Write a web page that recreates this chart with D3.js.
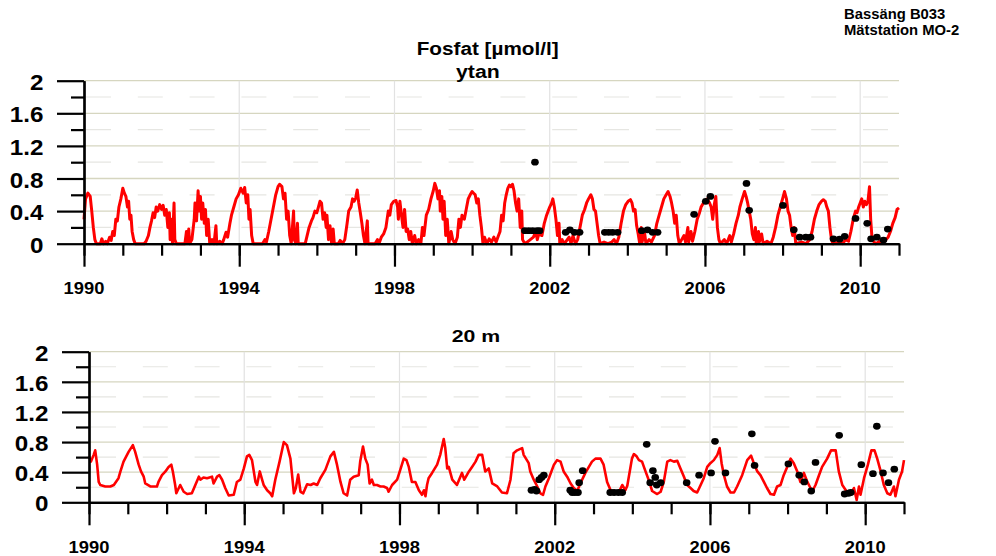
<!DOCTYPE html>
<html><head><meta charset="utf-8">
<script src="https://cdn.jsdelivr.net/npm/d3@7"></script>
<style>
body{margin:0;background:#fff}
svg{display:block}
text{font-family:"Liberation Sans",Arial,sans-serif;font-weight:bold;fill:#000}
</style></head><body>
<svg id="c" width="996" height="556"></svg>
<script>
// ---------------- DATA ----------------
const xLabelYears = [1990, 1994, 1998, 2002, 2006, 2010];
const xMinorYears = d3.range(1990, 2012, 1);
const yTickValues = [0, 0.4, 0.8, 1.2, 1.6, 2];
const yTickLabels = ["0", "0.4", "0.8", "1.2", "1.6", "2"];
const yMinorValues = [0.2, 0.6, 1.0, 1.4, 1.8];
const mainTitle = "Fosfat [µmol/l]";
const panelTitles = ["ytan", "20 m"];
const stationLines = ["Bassäng B033", "Mätstation MO-2"];

// surface model (decimal year, µmol/l)
const surfaceModel = [
[1990.00,0.30],[1990.04,0.55],[1990.10,0.62],[1990.16,0.58],[1990.20,0.40],[1990.24,0.20],[1990.28,0.05],[1990.32,0.0],[1990.42,0.0],[1990.46,0.06],[1990.50,0.0],[1990.56,0.03],[1990.60,0.0],[1990.66,0.08],[1990.70,0.04],[1990.74,0.15],[1990.78,0.10],[1990.82,0.30],[1990.86,0.28],[1990.90,0.45],[1990.95,0.55],[1991.00,0.68],
[1991.04,0.62],[1991.08,0.58],[1991.12,0.45],[1991.15,0.52],[1991.18,0.30],[1991.21,0.35],[1991.24,0.15],[1991.28,0.05],[1991.32,0.0],[1991.55,0.0],[1991.60,0.03],[1991.66,0.10],[1991.70,0.20],[1991.74,0.28],[1991.78,0.38],[1991.82,0.32],[1991.86,0.45],[1991.90,0.40],[1991.95,0.48],[1992.00,0.42],
[1992.04,0.47],[1992.08,0.35],[1992.12,0.42],[1992.16,0.20],[1992.20,0.38],[1992.22,0.05],[1992.26,0.30],[1992.28,0.0],[1992.32,0.50],[1992.34,0.05],[1992.38,0.0],[1992.60,0.0],[1992.64,0.15],[1992.66,0.02],[1992.70,0.18],[1992.72,0.0],[1992.78,0.05],[1992.84,0.30],[1992.86,0.50],[1992.90,0.28],[1992.94,0.65],[1992.97,0.40],
[1993.00,0.58],[1993.03,0.30],[1993.06,0.50],[1993.10,0.25],[1993.13,0.42],[1993.16,0.10],[1993.20,0.30],[1993.24,0.0],[1993.30,0.05],[1993.35,0.0],[1993.40,0.22],[1993.42,0.0],[1993.50,0.03],[1993.56,0.0],[1993.60,0.05],[1993.66,0.14],[1993.70,0.08],[1993.76,0.25],[1993.80,0.35],[1993.86,0.45],[1993.92,0.55],[1993.98,0.60],
[1994.04,0.68],[1994.10,0.62],[1994.14,0.69],[1994.18,0.50],[1994.22,0.60],[1994.25,0.30],[1994.28,0.42],[1994.32,0.10],[1994.36,0.0],[1994.60,0.0],[1994.66,0.05],[1994.70,0.02],[1994.76,0.15],[1994.82,0.30],[1994.88,0.45],[1994.94,0.60],[1995.00,0.70],
[1995.04,0.73],[1995.10,0.70],[1995.14,0.55],[1995.18,0.62],[1995.22,0.30],[1995.26,0.40],[1995.30,0.10],[1995.34,0.0],[1995.40,0.40],[1995.42,0.05],[1995.46,0.0],[1995.50,0.25],[1995.52,0.0],[1995.70,0.0],[1995.74,0.08],[1995.80,0.20],[1995.86,0.28],[1995.90,0.32],[1995.95,0.40],[1996.00,0.38],
[1996.04,0.45],[1996.08,0.52],[1996.12,0.50],[1996.16,0.30],[1996.20,0.38],[1996.24,0.20],[1996.26,0.35],[1996.30,0.05],[1996.34,0.22],[1996.38,0.0],[1996.42,0.18],[1996.45,0.0],[1996.55,0.0],[1996.60,0.04],[1996.66,0.0],[1996.72,0.05],[1996.78,0.25],[1996.82,0.40],[1996.88,0.45],[1996.92,0.55],[1996.96,0.52],[1997.00,0.56],
[1997.04,0.66],[1997.08,0.50],[1997.12,0.38],[1997.16,0.25],[1997.20,0.10],[1997.24,0.0],[1997.30,0.28],[1997.32,0.0],[1997.50,0.0],[1997.56,0.05],[1997.60,0.0],[1997.66,0.08],[1997.72,0.12],[1997.78,0.20],[1997.84,0.40],[1997.88,0.35],[1997.92,0.48],[1997.98,0.52],
[1998.04,0.53],[1998.08,0.45],[1998.10,0.30],[1998.14,0.52],[1998.18,0.35],[1998.22,0.20],[1998.26,0.42],[1998.30,0.15],[1998.34,0.18],[1998.38,0.05],[1998.42,0.15],[1998.46,0.0],[1998.52,0.10],[1998.56,0.0],[1998.62,0.05],[1998.68,0.0],[1998.72,0.20],[1998.76,0.10],[1998.82,0.35],[1998.88,0.42],[1998.94,0.55],[1999.00,0.65],
[1999.04,0.74],[1999.08,0.68],[1999.12,0.55],[1999.16,0.65],[1999.18,0.40],[1999.22,0.58],[1999.25,0.30],[1999.28,0.52],[1999.32,0.10],[1999.36,0.30],[1999.40,0.0],[1999.46,0.15],[1999.50,0.05],[1999.56,0.0],[1999.62,0.08],[1999.66,0.30],[1999.70,0.20],[1999.74,0.35],[1999.80,0.30],[1999.86,0.45],[1999.90,0.55],[1999.95,0.60],[2000.00,0.64],
[2000.04,0.62],[2000.08,0.60],[2000.12,0.50],[2000.16,0.55],[2000.20,0.35],[2000.24,0.20],[2000.28,0.0],[2000.32,0.08],[2000.38,0.0],[2000.44,0.06],[2000.50,0.02],[2000.56,0.08],[2000.62,0.02],[2000.68,0.10],[2000.72,0.15],[2000.76,0.35],[2000.80,0.28],[2000.84,0.50],[2000.88,0.60],[2000.92,0.68],[2000.96,0.72],[2001.00,0.70],
[2001.04,0.73],[2001.08,0.65],[2001.12,0.50],[2001.16,0.40],[2001.20,0.55],[2001.24,0.20],[2001.28,0.40],[2001.30,0.05],[2001.36,0.0],[2001.42,0.02],[2001.50,0.05],[2001.58,0.08],[2001.64,0.15],[2001.68,0.05],[2001.72,0.12],[2001.80,0.10],[2001.86,0.25],[2001.92,0.35],[2001.96,0.40],[2002.00,0.45],[2002.05,0.50],[2002.08,0.55],
[2002.12,0.45],[2002.16,0.30],[2002.20,0.10],[2002.24,0.25],[2002.26,0.0],[2002.32,0.05],[2002.38,0.0],[2002.50,0.08],[2002.55,0.0],[2002.60,0.10],[2002.66,0.0],[2002.72,0.05],[2002.78,0.20],[2002.84,0.35],[2002.90,0.42],[2002.95,0.50],[2003.00,0.55],[2003.06,0.60],
[2003.10,0.55],[2003.14,0.42],[2003.18,0.40],[2003.22,0.25],[2003.26,0.10],[2003.30,0.0],[2003.40,0.02],[2003.50,0.0],[2003.60,0.02],[2003.66,0.05],[2003.72,0.0],[2003.78,0.08],[2003.84,0.25],[2003.90,0.40],[2003.96,0.48],[2004.02,0.52],[2004.08,0.54],
[2004.12,0.50],[2004.16,0.40],[2004.20,0.42],[2004.24,0.22],[2004.28,0.12],[2004.32,0.0],[2004.36,0.20],[2004.38,0.02],[2004.44,0.15],[2004.48,0.0],[2004.56,0.05],[2004.62,0.02],[2004.70,0.10],[2004.76,0.25],[2004.82,0.35],[2004.88,0.45],[2004.94,0.55],[2005.00,0.60],[2005.05,0.64],
[2005.10,0.58],[2005.14,0.50],[2005.18,0.40],[2005.22,0.25],[2005.26,0.35],[2005.30,0.10],[2005.34,0.0],[2005.40,0.05],[2005.46,0.10],[2005.50,0.02],[2005.56,0.20],[2005.58,0.02],[2005.64,0.15],[2005.68,0.03],[2005.74,0.15],[2005.80,0.30],[2005.86,0.38],[2005.90,0.45],[2005.96,0.50],[2006.00,0.52],[2006.06,0.55],[2006.12,0.50],
[2006.16,0.45],[2006.20,0.30],[2006.24,0.48],[2006.28,0.58],[2006.32,0.20],[2006.36,0.05],[2006.40,0.0],[2006.50,0.05],[2006.56,0.0],[2006.64,0.10],[2006.68,0.02],[2006.74,0.12],[2006.80,0.25],[2006.86,0.35],[2006.90,0.45],[2006.96,0.55],[2007.02,0.64],
[2007.06,0.58],[2007.10,0.50],[2007.14,0.40],[2007.18,0.30],[2007.22,0.12],[2007.26,0.05],[2007.30,0.20],[2007.32,0.0],[2007.38,0.15],[2007.40,0.02],[2007.46,0.12],[2007.50,0.0],[2007.60,0.03],[2007.70,0.0],[2007.76,0.08],[2007.82,0.20],[2007.88,0.35],[2007.94,0.45],[2008.00,0.55],[2008.05,0.64],
[2008.10,0.55],[2008.14,0.40],[2008.18,0.35],[2008.22,0.20],[2008.26,0.10],[2008.30,0.20],[2008.34,0.0],[2008.50,0.02],[2008.60,0.0],[2008.70,0.05],[2008.76,0.15],[2008.82,0.30],[2008.88,0.40],[2008.94,0.48],[2009.00,0.52],[2009.05,0.54],
[2009.10,0.52],[2009.14,0.45],[2009.18,0.40],[2009.22,0.20],[2009.26,0.05],[2009.30,0.0],[2009.45,0.02],[2009.55,0.0],[2009.62,0.05],[2009.70,0.03],[2009.76,0.15],[2009.82,0.30],[2009.88,0.40],[2009.92,0.38],[2009.96,0.45],[2010.00,0.50],[2010.04,0.55],
[2010.08,0.45],[2010.12,0.52],[2010.16,0.48],[2010.20,0.52],[2010.24,0.70],[2010.27,0.30],[2010.30,0.10],[2010.34,0.03],[2010.40,0.0],[2010.50,0.03],[2010.60,0.02],[2010.66,0.05],[2010.72,0.08],[2010.78,0.15],[2010.84,0.25],[2010.90,0.32],[2010.95,0.42],[2011.00,0.44]
];

// surface observations
const surfaceObs = [
[2001.36,0.16],[2001.46,0.16],[2001.56,0.16],[2001.62,1.00],[2001.67,0.16],[2001.74,0.16],
[2002.41,0.14],[2002.52,0.17],[2002.64,0.14],[2002.77,0.14],
[2003.42,0.14],[2003.52,0.14],[2003.62,0.14],[2003.75,0.14],
[2004.37,0.16],[2004.52,0.17],[2004.65,0.14],[2004.78,0.14],
[2005.72,0.36],[2006.02,0.52],[2006.14,0.58],[2007.07,0.74],[2007.14,0.41],
[2008.01,0.47],[2008.29,0.17],[2008.44,0.08],[2008.60,0.08],[2008.72,0.08],
[2009.31,0.06],[2009.47,0.055],[2009.60,0.09],[2009.88,0.31],
[2010.18,0.25],[2010.28,0.06],[2010.43,0.08],[2010.60,0.045],[2010.71,0.18]
];

// 20 m model
const deepModel = [
[1990.00,0.61],[1990.05,0.54],[1990.12,0.63],[1990.16,0.69],[1990.21,0.50],[1990.25,0.27],[1990.29,0.23],[1990.42,0.21],[1990.55,0.21],[1990.64,0.23],[1990.76,0.32],[1990.81,0.41],[1990.89,0.54],[1991.02,0.67],[1991.13,0.76],[1991.19,0.67],[1991.28,0.50],[1991.34,0.41],[1991.41,0.34],[1991.45,0.25],[1991.58,0.21],[1991.75,0.21],[1991.79,0.27],[1991.88,0.36],[1991.97,0.41],
[1992.05,0.47],[1992.12,0.50],[1992.16,0.41],[1992.22,0.23],[1992.25,0.12],[1992.35,0.23],[1992.44,0.14],[1992.53,0.11],[1992.65,0.12],[1992.74,0.23],[1992.83,0.34],[1992.87,0.30],[1992.95,0.33],[1993.04,0.32],[1993.17,0.34],[1993.21,0.25],[1993.30,0.34],[1993.36,0.36],[1993.43,0.30],[1993.51,0.19],[1993.60,0.09],[1993.73,0.10],[1993.81,0.27],[1993.90,0.30],[1993.99,0.45],
[1994.07,0.61],[1994.13,0.63],[1994.20,0.56],[1994.29,0.27],[1994.33,0.23],[1994.40,0.41],[1994.46,0.30],[1994.50,0.23],[1994.59,0.16],[1994.67,0.12],[1994.72,0.08],[1994.80,0.30],[1994.91,0.54],[1995.02,0.80],[1995.10,0.76],[1995.19,0.58],[1995.28,0.12],[1995.33,0.19],[1995.39,0.37],[1995.45,0.14],[1995.52,0.12],[1995.62,0.24],[1995.71,0.23],[1995.79,0.25],[1995.88,0.23],[1995.96,0.32],
[1996.09,0.43],[1996.22,0.61],[1996.31,0.67],[1996.39,0.50],[1996.48,0.27],[1996.56,0.12],[1996.65,0.09],[1996.73,0.30],[1996.82,0.34],[1996.95,0.36],[1996.99,0.55],[1997.06,0.74],[1997.12,0.58],[1997.18,0.50],[1997.23,0.25],[1997.29,0.30],[1997.34,0.23],[1997.42,0.23],[1997.51,0.21],[1997.59,0.21],[1997.68,0.19],[1997.72,0.14],[1997.81,0.23],[1997.94,0.30],
[1998.02,0.43],[1998.11,0.58],[1998.18,0.56],[1998.24,0.47],[1998.32,0.27],[1998.41,0.27],[1998.50,0.16],[1998.58,0.10],[1998.63,0.16],[1998.67,0.08],[1998.71,0.23],[1998.75,0.32],[1998.84,0.39],[1998.97,0.50],[1999.05,0.63],[1999.14,0.84],[1999.18,0.72],[1999.23,0.45],[1999.27,0.47],[1999.36,0.30],[1999.48,0.23],[1999.61,0.39],[1999.67,0.30],[1999.79,0.41],[1999.87,0.47],[1999.96,0.54],
[2000.04,0.63],[2000.13,0.63],[2000.21,0.41],[2000.30,0.45],[2000.39,0.25],[2000.52,0.21],[2000.64,0.13],[2000.77,0.12],[2000.86,0.30],[2000.94,0.65],[2001.03,0.69],[2001.16,0.72],[2001.20,0.63],[2001.33,0.52],[2001.37,0.41],[2001.46,0.30],[2001.55,0.21],[2001.63,0.12],[2001.70,0.10],[2001.76,0.21],[2001.85,0.32],[2001.98,0.50],
[2002.06,0.56],[2002.15,0.54],[2002.23,0.41],[2002.32,0.34],[2002.41,0.25],[2002.49,0.19],[2002.58,0.15],[2002.66,0.25],[2002.79,0.39],[2002.88,0.47],[2002.96,0.54],[2003.05,0.58],[2003.18,0.58],[2003.26,0.50],[2003.35,0.27],[2003.44,0.16],[2003.56,0.14],[2003.65,0.13],[2003.74,0.23],[2003.82,0.16],[2003.87,0.22],[2003.93,0.40],[2003.99,0.58],
[2004.04,0.64],[2004.11,0.61],[2004.17,0.56],[2004.25,0.54],[2004.34,0.41],[2004.42,0.30],[2004.51,0.15],[2004.64,0.11],[2004.73,0.14],[2004.81,0.27],[2004.90,0.54],[2004.98,0.56],[2005.07,0.54],[2005.16,0.55],[2005.24,0.45],[2005.33,0.34],[2005.41,0.23],[2005.50,0.19],[2005.58,0.15],[2005.67,0.13],[2005.76,0.23],[2005.84,0.32],[2005.93,0.47],
[2006.01,0.52],[2006.10,0.56],[2006.19,0.63],[2006.25,0.72],[2006.30,0.52],[2006.36,0.36],[2006.44,0.21],[2006.53,0.13],[2006.62,0.13],[2006.70,0.21],[2006.83,0.36],[2006.96,0.56],[2007.06,0.62],[2007.13,0.52],[2007.22,0.41],[2007.30,0.36],[2007.39,0.27],[2007.47,0.19],[2007.56,0.11],[2007.65,0.10],[2007.73,0.21],[2007.82,0.23],[2007.90,0.36],[2007.99,0.47],
[2008.08,0.58],[2008.16,0.52],[2008.25,0.41],[2008.33,0.27],[2008.42,0.39],[2008.51,0.27],[2008.59,0.19],[2008.63,0.14],[2008.72,0.23],[2008.81,0.36],[2008.89,0.47],[2009.02,0.58],[2009.12,0.69],[2009.24,0.69],[2009.32,0.41],[2009.41,0.23],[2009.54,0.13],[2009.62,0.10],[2009.71,0.19],[2009.78,0.03],[2009.84,0.21],[2009.88,0.10],[2009.97,0.32],
[2010.07,0.50],[2010.16,0.69],[2010.24,0.69],[2010.31,0.58],[2010.40,0.41],[2010.48,0.23],[2010.57,0.12],[2010.65,0.10],[2010.74,0.21],[2010.78,0.08],[2010.87,0.30],[2010.95,0.41],[2011.00,0.56]
];

// 20 m observations
const deepObs = [
[2001.40,0.16],[2001.48,0.17],[2001.53,0.15],[2001.60,0.30],[2001.66,0.33],[2001.72,0.36],
[2002.40,0.16],[2002.45,0.13],[2002.52,0.13],[2002.60,0.13],[2002.63,0.26],[2002.72,0.42],
[2003.43,0.13],[2003.53,0.13],[2003.64,0.13],[2003.74,0.13],
[2004.37,0.77],[2004.46,0.26],[2004.53,0.42],[2004.59,0.33],[2004.63,0.23],[2004.73,0.26],
[2005.40,0.26],[2005.72,0.36],[2006.03,0.39],[2006.13,0.81],[2006.40,0.39],
[2007.08,0.91],[2007.15,0.49],[2008.02,0.51],[2008.30,0.36],[2008.43,0.27],[2008.61,0.15],[2008.72,0.53],
[2009.33,0.89],[2009.47,0.11],[2009.57,0.12],[2009.63,0.13],[2009.90,0.50],
[2010.20,0.38],[2010.30,1.01],[2010.46,0.39],[2010.60,0.26],[2010.75,0.44]
];

// ---------------- DRAW ----------------
const svg = d3.select("#c");

function stretchedText(g, x, y, str, size, anchor, sx) {
  return g.append("text")
    .attr("transform", `translate(${x},${y}) scale(${sx},1)`)
    .attr("text-anchor", anchor)
    .style("font-size", size + "px")
    .text(str);
}

function drawPanel(p, model, obs, title) {
  const g = svg.append("g");
  const xs = d3.scaleLinear().domain([1990, 2011]).range([p.x0, p.x1]);
  const ys = d3.scaleLinear().domain([0, 2]).range([p.y0, p.y2]);

  // dashed minor grid
  g.selectAll(".gmin").data(yMinorValues).join("line")
    .attr("x1", p.x0 + 2).attr("x2", p.x1)
    .attr("y1", d => ys(d)).attr("y2", d => ys(d))
    .attr("stroke", "#e6e6e2").attr("stroke-width", 1.2)
    .attr("stroke-dasharray", "25,26.8");
  // solid major grid
  g.selectAll(".gmaj").data(yTickValues.filter(d => d > 0)).join("line")
    .attr("x1", p.x0).attr("x2", p.x1)
    .attr("y1", d => ys(d)).attr("y2", d => ys(d))
    .attr("stroke", "#d6d6c0").attr("stroke-width", 1.3);
  // vertical grid
  g.selectAll(".gv").data(xLabelYears.filter(d => d > 1990)).join("line")
    .attr("x1", d => xs(d)).attr("x2", d => xs(d))
    .attr("y1", ys(2)).attr("y2", ys(0))
    .attr("stroke", "#e2e2e2").attr("stroke-width", 1.2);

  // model line
  g.append("path").datum(model)
    .attr("fill", "none").attr("stroke", "#ff0000")
    .attr("stroke-width", p.lw).attr("stroke-linejoin", "round")
    .attr("d", d3.line().x(d => xs(d[0])).y(d => ys(d[1])));

  // observations
  g.selectAll(".obs").data(obs).join("ellipse")
    .attr("cx", d => xs(d[0])).attr("cy", d => ys(d[1]))
    .attr("rx", 3.8).attr("ry", 3.4).attr("fill", "#000");

  // axes
  const axStyle = sel => {
    sel.selectAll("path,line").attr("stroke", "#000").attr("stroke-width", 2.2);
    sel.selectAll("text").remove();
  };
  g.append("g").attr("transform", `translate(0,${p.y0})`)
    .call(d3.axisBottom(xs).tickValues(xMinorYears).tickSize(12).tickSizeOuter(0).tickFormat(""))
    .call(axStyle);
  g.append("g").attr("transform", `translate(0,${p.y0})`)
    .call(d3.axisBottom(xs).tickValues(xLabelYears).tickSize(23).tickSizeOuter(0).tickFormat(""))
    .call(axStyle);
  g.append("g").attr("transform", `translate(${p.x0},0)`)
    .call(d3.axisLeft(ys).tickValues(yMinorValues).tickSize(13).tickSizeOuter(0).tickFormat(""))
    .call(axStyle);
  g.append("g").attr("transform", `translate(${p.x0},0)`)
    .call(d3.axisLeft(ys).tickValues(yTickValues).tickSize(27).tickSizeOuter(0).tickFormat(""))
    .call(axStyle);

  // labels
  xLabelYears.forEach(yr => stretchedText(g, xs(yr), p.y0 + 50.5, String(yr), 17, "middle", 1.08));
  yTickValues.forEach((v, i) => stretchedText(g, p.x0 - 40.5, ys(v) + 9, yTickLabels[i], 22, "end", 1.1));

  stretchedText(g, p.tx, p.ty, title, p.ts, "start", p.tsx);
}

drawPanel({x0: 84, x1: 899, y0: 243.7, y2: 80.7, lw: 3.0, tx: 456, ty: 78.3, ts: 18.5, tsx: 1.15},
  surfaceModel, surfaceObs, panelTitles[0]);
drawPanel({x0: 89, x1: 904, y0: 502.3, y2: 351.7, lw: 2.6, tx: 451.7, ty: 341.7, ts: 17, tsx: 1.25},
  deepModel, deepObs, panelTitles[1]);

stretchedText(svg, 416.7, 55, mainTitle, 18.5, "start", 1.12);
stretchedText(svg, 844, 18.8, stationLines[0], 14, "start", 1.06);
stretchedText(svg, 844, 34.6, stationLines[1], 14, "start", 1.06);
</script>
</body></html>
